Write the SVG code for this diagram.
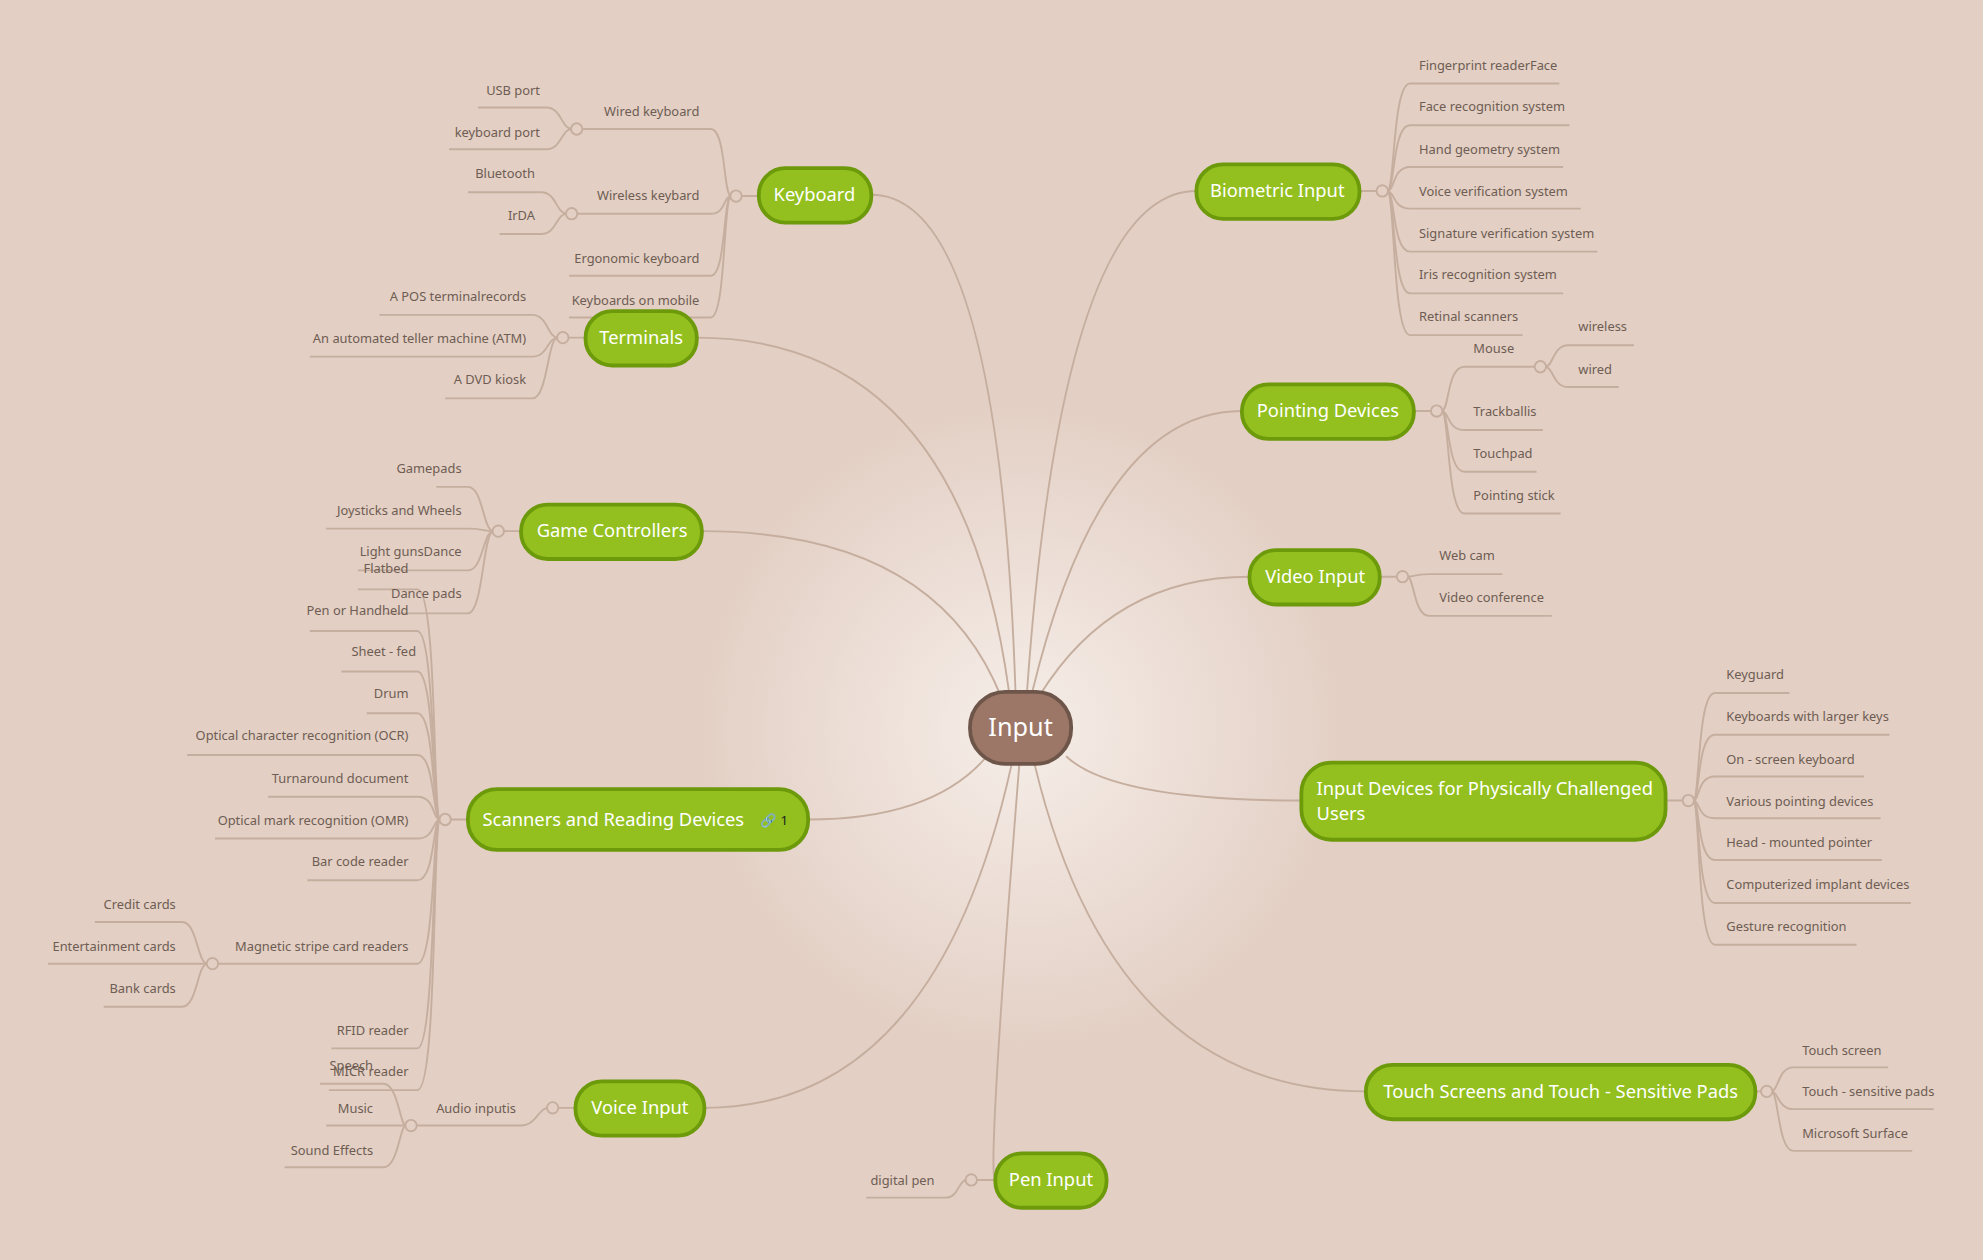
<svg xmlns="http://www.w3.org/2000/svg" width="1983" height="1260" viewBox="0 0 1983 1260">
<defs>
<radialGradient id="bg" cx="807" cy="575" r="260" gradientUnits="userSpaceOnUse">
<stop offset="0" stop-color="#f6eee9"/><stop offset="1" stop-color="#e3cfc4"/>
</radialGradient>
<style>
.c{fill:none;stroke:#c6ae9f;stroke-width:1.5}
.h{fill:#e3cfc4;stroke:#c6ae9f;stroke-width:1.5}
.t{font-family:"Noto Sans","DejaVu Sans",sans-serif;font-size:10.2px;fill:#6e5d53}
.r{text-anchor:end}
.n rect{fill:#93c01f;stroke:#6c9a0b;stroke-width:3}
.n text{font-family:"Noto Sans","DejaVu Sans",sans-serif;font-size:14.5px;fill:#fff;text-anchor:middle}
</style>
</defs>
<rect width="1983" height="1260" fill="#e3cfc4"/>
<g transform="scale(1.26467)">
<rect x="0" y="0" width="1568" height="996" fill="url(#bg)"/>
<g id="connectors">
<path class="c" d="M803 548 Q790 154 689 154"/>
<path class="c" d="M798 548 Q760 267 551 267"/>
<path class="c" d="M792 552 Q740 420 555 420"/>
<path class="c" d="M782 596 Q740 648 639 648"/>
<path class="c" d="M800 604 Q740 876 557 876"/>
<path class="c" d="M806 604 Q780 933 787 933"/>
<path class="c" d="M812 548 Q840 151 946 151"/>
<path class="c" d="M816 548 Q870 325 982 325"/>
<path class="c" d="M822 550 Q880 456 988 456"/>
<path class="c" d="M843 598 Q880 633 1029 633"/>
<path class="c" d="M818 604 Q880 863 1080 863"/>
<path class="c" d="M586 155H600 M449 267H463 M398 420H412 M356 648H370 M441 876H455 M772 933H787 M1075 151H1089 M1118 325H1132 M1091 456H1105 M1317 633H1331 M1388 863H1393"/>
<path class="c" d="M452 102H562 C574 102,572 155,578 155"/>
<path class="c" d="M452 169H562 C574 169,572 155,578 155"/>
<path class="c" d="M450 218H562 C574 218,572 155,578 155"/>
<path class="c" d="M450 251H562 C574 251,572 155,578 155"/>
<path class="c" d="M378 85H432 C444 85,444 102,452 102"/>
<path class="c" d="M355 118H432 C444 118,444 102,452 102"/>
<path class="c" d="M370 152H428 C440 152,440 169,448 169"/>
<path class="c" d="M395 185H428 C440 185,440 169,448 169"/>
<path class="c" d="M300 249H421 C433 249,433 267,441 267"/>
<path class="c" d="M245 282H421 C433 282,433 267,441 267"/>
<path class="c" d="M352 315H421 C433 315,433 267,441 267"/>
<path class="c" d="M345 385H370 C382 385,382 420,390 420"/>
<path class="c" d="M258 418H370 C382 418,382 420,390 420"/>
<path class="c" d="M283 451H370 C382 451,382 420,390 420"/>
<path class="c" d="M305 485H370 C382 485,382 420,390 420"/>
<path class="c" d="M283 466H330 C346 466,342 648,348 648"/>
<path class="c" d="M245 499H330 C344 499,342 648,348 648"/>
<path class="c" d="M270 531H330 C344 531,342 648,348 648"/>
<path class="c" d="M290 564H330 C344 564,342 648,348 648"/>
<path class="c" d="M148 597H330 C344 597,342 648,348 648"/>
<path class="c" d="M212 630H330 C344 630,342 648,348 648"/>
<path class="c" d="M170 663H330 C344 663,342 648,348 648"/>
<path class="c" d="M243 696H330 C344 696,342 648,348 648"/>
<path class="c" d="M172 762H330 C344 762,342 648,348 648"/>
<path class="c" d="M262 829H330 C344 829,342 648,348 648"/>
<path class="c" d="M260 862H330 C346 862,342 648,348 648"/>
<path class="c" d="M75 729H144 C156 729,156 762,164 762"/>
<path class="c" d="M38 762H164"/>
<path class="c" d="M82 796H144 C156 796,156 762,164 762"/>
<path class="c" d="M329 890H412 C424 890,426 876,433 876"/>
<path class="c" d="M253 857H303 C315 857,316 890,321 890"/>
<path class="c" d="M258 890H321"/>
<path class="c" d="M225 923H303 C315 923,316 890,321 890"/>
<path class="c" d="M685 947H748 C758 947,758 933,764 933"/>
<path class="c" d="M1233 66H1115 C1101 66,1103 151,1097 151"/>
<path class="c" d="M1241 99H1115 C1101 99,1103 151,1097 151"/>
<path class="c" d="M1236 132H1115 C1101 132,1103 151,1097 151"/>
<path class="c" d="M1250 165H1115 C1101 165,1103 151,1097 151"/>
<path class="c" d="M1263 199H1115 C1101 199,1103 151,1097 151"/>
<path class="c" d="M1236 232H1115 C1101 232,1103 151,1097 151"/>
<path class="c" d="M1204 265H1115 C1101 265,1103 151,1097 151"/>
<path class="c" d="M1214 290H1158 C1144 290,1146 325,1140 325"/>
<path class="c" d="M1220 340H1158 C1144 340,1146 325,1140 325"/>
<path class="c" d="M1215 373H1158 C1144 373,1146 325,1140 325"/>
<path class="c" d="M1234 406H1158 C1144 406,1146 325,1140 325"/>
<path class="c" d="M1292 273H1240 C1228 273,1228 290,1222 290"/>
<path class="c" d="M1280 306H1240 C1228 306,1228 290,1222 290"/>
<path class="c" d="M1188 454H1130 C1118 454,1118 456,1113 456"/>
<path class="c" d="M1227 487H1130 C1118 487,1118 456,1113 456"/>
<path class="c" d="M1415 548H1356 C1342 548,1344 633,1339 633"/>
<path class="c" d="M1494 581H1356 C1342 581,1344 633,1339 633"/>
<path class="c" d="M1474 614H1356 C1342 614,1344 633,1339 633"/>
<path class="c" d="M1487 647H1356 C1342 647,1344 633,1339 633"/>
<path class="c" d="M1488 680H1356 C1342 680,1344 633,1339 633"/>
<path class="c" d="M1511 714H1356 C1342 714,1344 633,1339 633"/>
<path class="c" d="M1468 747H1356 C1342 747,1344 633,1339 633"/>
<path class="c" d="M1493 844H1418 C1406 844,1406 863,1401 863"/>
<path class="c" d="M1529 877H1418 C1406 877,1406 863,1401 863"/>
<path class="c" d="M1512 910H1418 C1406 910,1406 863,1401 863"/>
</g>
<g id="hubs">
<circle class="h" cx="582" cy="155" r="4.5"/><circle class="h" cx="456" cy="102" r="4.5"/><circle class="h" cx="452" cy="169" r="4.5"/>
<circle class="h" cx="445" cy="267" r="4.5"/><circle class="h" cx="394" cy="420" r="4.5"/><circle class="h" cx="352" cy="648" r="4.5"/>
<circle class="h" cx="168" cy="762" r="4.5"/><circle class="h" cx="437" cy="876" r="4.5"/><circle class="h" cx="325" cy="890" r="4.5"/>
<circle class="h" cx="768" cy="933" r="4.5"/><circle class="h" cx="1093" cy="151" r="4.5"/><circle class="h" cx="1136" cy="325" r="4.5"/>
<circle class="h" cx="1218" cy="290" r="4.5"/><circle class="h" cx="1109" cy="456" r="4.5"/><circle class="h" cx="1335" cy="633" r="4.5"/>
<circle class="h" cx="1397" cy="863" r="4.5"/>
</g>
<g id="center"><rect x="767" y="547" width="80" height="57" rx="28" fill="#9c7666" stroke="#6d5649" stroke-width="3"/>
<text x="807" y="582" font-family="Noto Sans,DejaVu Sans,sans-serif" font-size="20" fill="#fff" text-anchor="middle">Input</text></g>
<g id="keyboard" class="n"><rect x="600" y="133" width="89" height="43" rx="21"/><text x="644" y="159">Keyboard</text></g>
<g id="terminals" class="n"><rect x="463" y="246" width="88" height="43" rx="21"/><text x="507" y="272">Terminals</text></g>
<g id="game" class="n"><rect x="412" y="399" width="143" height="43" rx="21"/><text x="484" y="425">Game Controllers</text></g>
<g id="scanners" class="n"><rect x="370" y="624" width="269" height="48" rx="23"/><text x="485" y="653">Scanners and Reading Devices</text><text x="612" y="652" style="font-size:10.5px;fill:#222">🔗 1</text></g>
<g id="voice" class="n"><rect x="455" y="855" width="102" height="43" rx="21"/><text x="506" y="881">Voice Input</text></g>
<g id="pen" class="n"><rect x="787" y="912" width="88" height="43" rx="21"/><text x="831" y="938">Pen Input</text></g>
<g id="biometric" class="n"><rect x="946" y="130" width="129" height="43" rx="21"/><text x="1010" y="156">Biometric Input</text></g>
<g id="pointing" class="n"><rect x="982" y="304" width="136" height="43" rx="21"/><text x="1050" y="330">Pointing Devices</text></g>
<g id="video" class="n"><rect x="988" y="435" width="103" height="43" rx="21"/><text x="1040" y="461">Video Input</text></g>
<g id="physically" class="n"><rect x="1029" y="603" width="288" height="61" rx="24"/><text x="1041" y="629" style="text-anchor:start">Input Devices for Physically Challenged</text><text x="1041" y="648" style="text-anchor:start">Users</text></g>
<g id="touch" class="n"><rect x="1080" y="842" width="308" height="43" rx="21"/><text x="1234" y="868">Touch Screens and Touch - Sensitive Pads</text></g>
<g id="leaves" class="t">
<text class="t r" x="553" y="92">Wired  keyboard</text>
<text class="t r" x="427" y="75">USB port</text>
<text class="t r" x="427" y="108">keyboard port</text>
<text class="t r" x="553" y="158">Wireless keybard</text>
<text class="t r" x="423" y="141">Bluetooth</text>
<text class="t r" x="423" y="174">IrDA</text>
<text class="t r" x="553" y="208">Ergonomic keyboard</text>
<text class="t r" x="553" y="241">Keyboards on mobile</text>
<text class="t r" x="416" y="238">A POS terminalrecords</text>
<text class="t r" x="416" y="271">An automated teller machine (ATM)</text>
<text class="t r" x="416" y="304">A DVD kiosk</text>
<text class="t r" x="365" y="374">Gamepads</text>
<text class="t r" x="365" y="407">Joysticks and Wheels</text>
<text class="t r" x="365" y="440">Light gunsDance</text>
<text class="t r" x="365" y="473">Dance pads</text>
<text class="t r" x="323" y="453">Flatbed</text>
<text class="t r" x="323" y="486">Pen or Handheld</text>
<text class="t r" x="329" y="519">Sheet - fed</text>
<text class="t r" x="323" y="552">Drum</text>
<text class="t r" x="323" y="585">Optical character recognition (OCR)</text>
<text class="t r" x="323" y="619">Turnaround document</text>
<text class="t r" x="323" y="652">Optical mark recognition (OMR)</text>
<text class="t r" x="323" y="685">Bar code reader</text>
<text class="t r" x="323" y="752">Magnetic stripe card readers</text>
<text class="t r" x="139" y="719">Credit cards</text>
<text class="t r" x="139" y="752">Entertainment cards</text>
<text class="t r" x="139" y="785">Bank cards</text>
<text class="t r" x="323" y="818">RFID reader</text>
<text class="t r" x="323" y="851">MICR reader</text>
<text class="t r" x="408" y="880">Audio inputis</text>
<text class="t r" x="295" y="846">Speech</text>
<text class="t r" x="295" y="880">Music</text>
<text class="t r" x="295" y="913">Sound Effects</text>
<text class="t r" x="739" y="937">digital pen</text>
<text class="t" x="1122" y="55">Fingerprint readerFace</text>
<text class="t" x="1122" y="88">Face recognition system</text>
<text class="t" x="1122" y="122">Hand geometry system</text>
<text class="t" x="1122" y="155">Voice verification system</text>
<text class="t" x="1122" y="188">Signature verification system</text>
<text class="t" x="1122" y="221">Iris recognition system</text>
<text class="t" x="1122" y="254">Retinal scanners</text>
<text class="t" x="1165" y="279">Mouse</text>
<text class="t" x="1248" y="262">wireless</text>
<text class="t" x="1248" y="296">wired</text>
<text class="t" x="1165" y="329">Trackballis</text>
<text class="t" x="1165" y="362">Touchpad</text>
<text class="t" x="1165" y="395">Pointing stick</text>
<text class="t" x="1138" y="443">Web cam</text>
<text class="t" x="1138" y="476">Video conference</text>
<text class="t" x="1365" y="537">Keyguard</text>
<text class="t" x="1365" y="570">Keyboards with larger keys</text>
<text class="t" x="1365" y="604">On - screen keyboard</text>
<text class="t" x="1365" y="637">Various pointing devices</text>
<text class="t" x="1365" y="670">Head - mounted pointer</text>
<text class="t" x="1365" y="703">Computerized implant devices</text>
<text class="t" x="1365" y="736">Gesture recognition</text>
<text class="t" x="1425" y="834">Touch screen</text>
<text class="t" x="1425" y="867">Touch - sensitive pads</text>
<text class="t" x="1425" y="900">Microsoft Surface</text>
</g>
</g>
</svg>
